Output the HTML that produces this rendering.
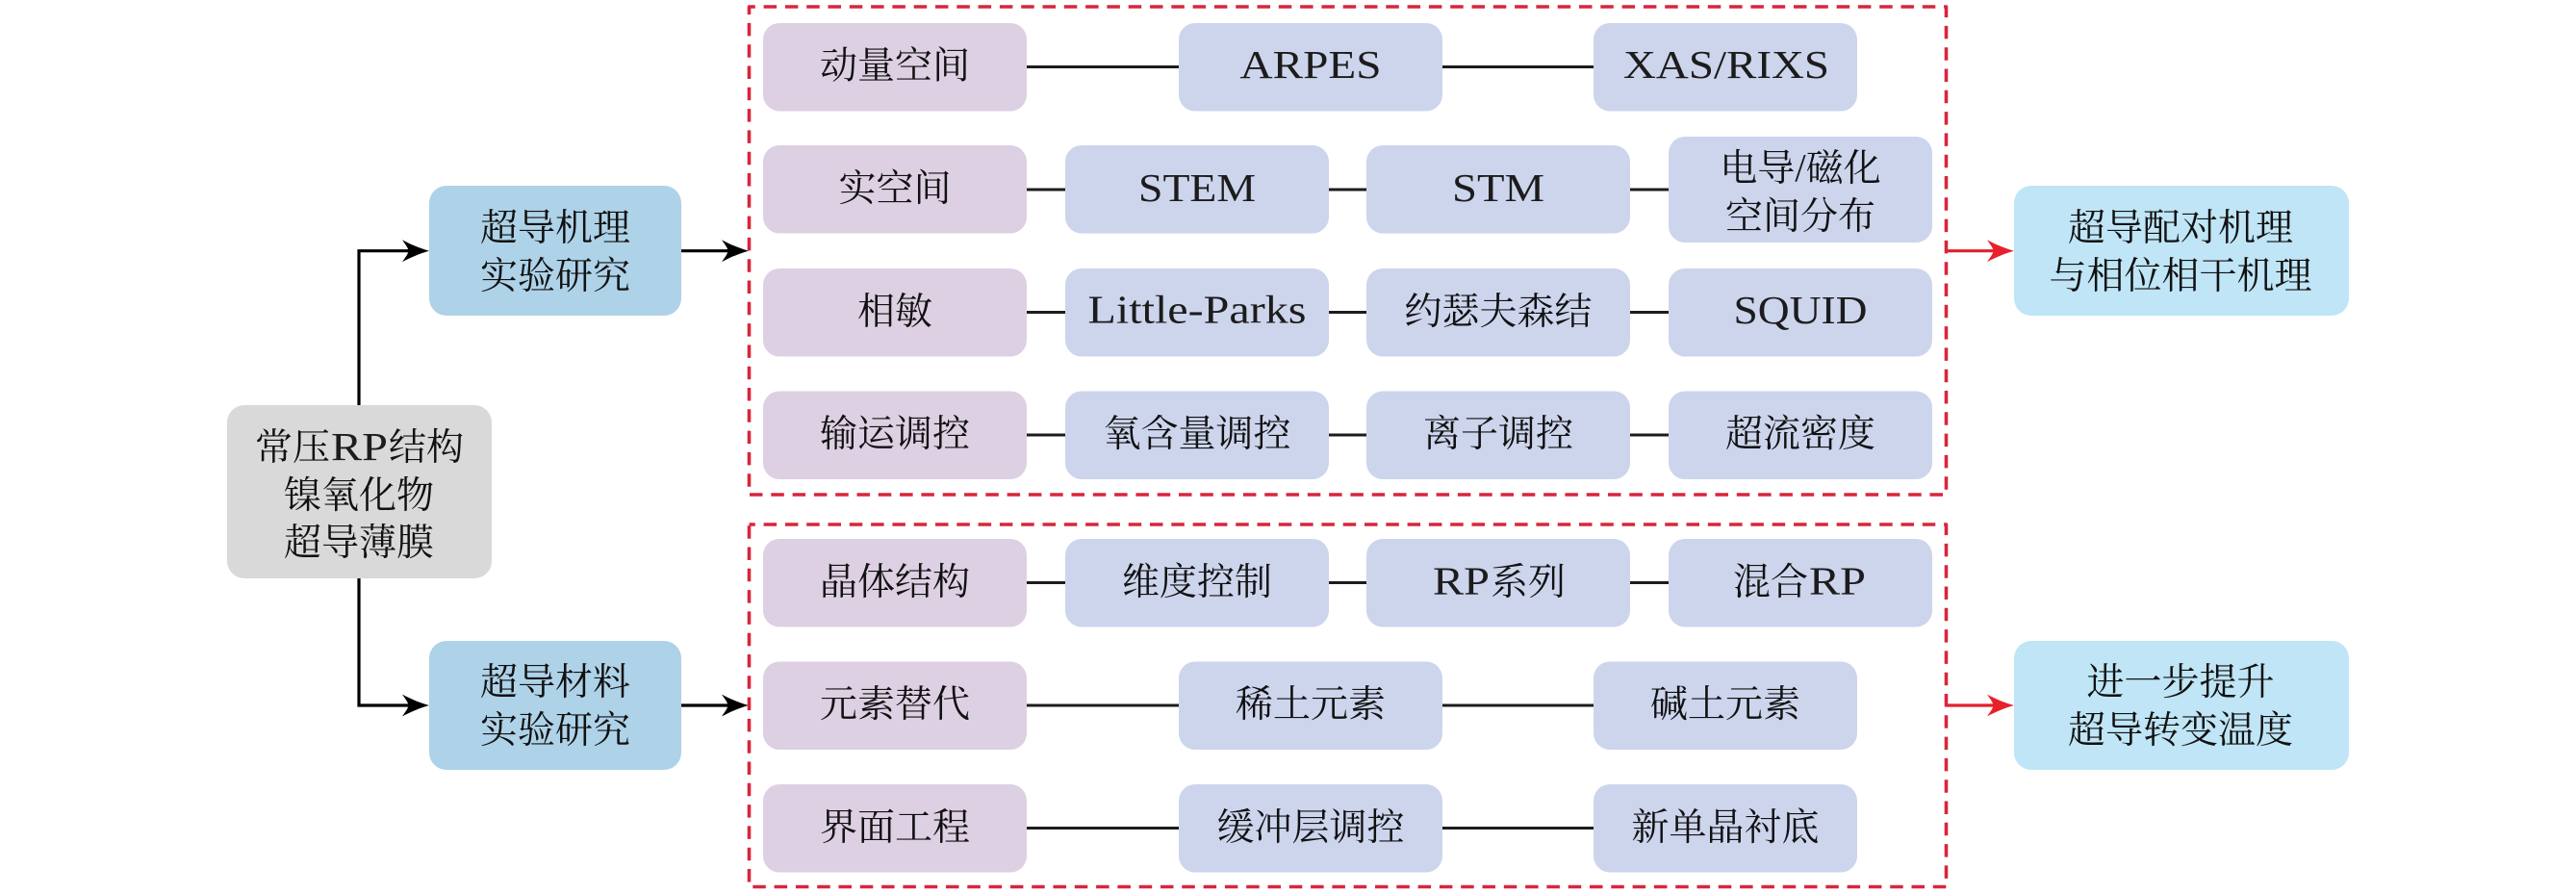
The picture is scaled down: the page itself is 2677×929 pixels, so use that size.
<!DOCTYPE html>
<html lang="zh">
<head>
<meta charset="utf-8">
<title>Diagram</title>
<style>
html,body{margin:0;padding:0;background:#fff;width:2677px;height:929px;overflow:hidden}
svg{display:block}
text{font-family:"Liberation Serif","Noto Serif CJK SC",serif;font-size:39px;fill:#111;text-anchor:middle}
.l{font-size:41px;font-family:"Liberation Serif",serif;fill:#1c1c1c}
.st{text-anchor:start}
.p{fill:#ddd0e3}.b{fill:#cdd5ed}.s{fill:#aed2e8}.g{fill:#d9d9d9}.c{fill:#bfe5f6}
</style>
</head>
<body>
<svg width="2677" height="929" viewBox="0 0 2677 929" xmlns="http://www.w3.org/2000/svg">
<defs>
<path id="ah" d="M0 0 C-9 2.500 -19 6.500 -28 11.500 C-25 7 -22 3.500 -21.500 0 C-22 -3.500 -25 -7 -28 -11.500 C-19 -6.500 -9 -2.500 0 0Z"/>
</defs>
<rect width="2677" height="929" fill="#fff"/>

<!-- connectors -->
<g stroke="#1c1c1c" stroke-width="3" fill="none">
<path d="M1067 69.500H1226M1499 69.500H1656"/>
<path d="M1067 197H1107M1381 197H1420M1694 197H1734"/>
<path d="M1067 324.500H1107M1381 324.500H1420M1694 324.500H1734"/>
<path d="M1067 452H1107M1381 452H1420M1694 452H1734"/>
<path d="M1067 605.500H1107M1381 605.500H1420M1694 605.500H1734"/>
<path d="M1067 733H1226M1499 733H1656"/>
<path d="M1067 860.500H1226M1499 860.500H1656"/>
</g>
<g stroke="#000" stroke-width="3.200" fill="none">
<path d="M373 421V260.700H425"/>
<path d="M373 601V733H425"/>
<path d="M707 260.700H757"/>
<path d="M707 733H757"/>
</g>
<use href="#ah" x="446" y="260.700" fill="#000"/>
<use href="#ah" x="446" y="733" fill="#000"/>
<use href="#ah" x="778" y="260.700" fill="#000"/>
<use href="#ah" x="778" y="733" fill="#000"/>
<g stroke="#e0202f" stroke-width="3.200" fill="none">
<path d="M2022 260.700H2072"/>
<path d="M2022 733H2072"/>
</g>
<use href="#ah" x="2093" y="260.700" fill="#e8202a"/>
<use href="#ah" x="2093" y="733" fill="#e8202a"/>

<!-- dashed groups -->
<g fill="none" stroke="#d7263d" stroke-width="3.600" stroke-dasharray="13.500 8.800" stroke-dashoffset="7.200" stroke-linejoin="round">
<rect x="778.500" y="7" width="1244" height="507"/>
<rect x="778.500" y="545" width="1244" height="376.500"/>
</g>

<!-- left nodes -->
<rect class="g" x="236" y="421" width="275" height="180" rx="18"/>
<rect class="s" x="446" y="193" width="262" height="135" rx="18"/>
<rect class="s" x="446" y="666" width="262" height="134" rx="18"/>
<rect class="c" x="2093" y="193" width="348" height="135" rx="18"/>
<rect class="c" x="2093" y="666" width="348" height="134" rx="18"/>

<!-- col 1 -->
<g class="p">
<rect x="793" y="24" width="274" height="91.500" rx="17"/>
<rect x="793" y="151" width="274" height="91.500" rx="17"/>
<rect x="793" y="279" width="274" height="91.500" rx="17"/>
<rect x="793" y="406.500" width="274" height="91.500" rx="17"/>
<rect x="793" y="560" width="274" height="91.500" rx="17"/>
<rect x="793" y="687.500" width="274" height="91.500" rx="17"/>
<rect x="793" y="815" width="274" height="91.500" rx="17"/>
</g>
<g class="b">
<rect x="1225" y="24" width="274" height="91.500" rx="17"/>
<rect x="1656" y="24" width="274" height="91.500" rx="17"/>
<rect x="1107" y="151" width="274" height="91.500" rx="17"/>
<rect x="1420" y="151" width="274" height="91.500" rx="17"/>
<rect x="1734" y="142" width="274" height="110" rx="17"/>
<rect x="1107" y="279" width="274" height="91.500" rx="17"/>
<rect x="1420" y="279" width="274" height="91.500" rx="17"/>
<rect x="1734" y="279" width="274" height="91.500" rx="17"/>
<rect x="1107" y="406.500" width="274" height="91.500" rx="17"/>
<rect x="1420" y="406.500" width="274" height="91.500" rx="17"/>
<rect x="1734" y="406.500" width="274" height="91.500" rx="17"/>
<rect x="1107" y="560" width="274" height="91.500" rx="17"/>
<rect x="1420" y="560" width="274" height="91.500" rx="17"/>
<rect x="1734" y="560" width="274" height="91.500" rx="17"/>
<rect x="1225" y="687.500" width="274" height="91.500" rx="17"/>
<rect x="1656" y="687.500" width="274" height="91.500" rx="17"/>
<rect x="1225" y="815" width="274" height="91.500" rx="17"/>
<rect x="1656" y="815" width="274" height="91.500" rx="17"/>
</g>

<!-- labels -->
<text class="st" x="265" y="478">常压</text>
<text class="l st" x="344" y="478" textLength="59" lengthAdjust="spacingAndGlyphs">RP</text>
<text class="st" x="404" y="478">结构</text>
<text x="373" y="528">镍氧化物</text>
<text x="373" y="577">超导薄膜</text>
<text x="577" y="250">超导机理</text>
<text x="577" y="300">实验研究</text>
<text x="577" y="722">超导材料</text>
<text x="577" y="772">实验研究</text>
<text x="2266" y="250">超导配对机理</text>
<text x="2266" y="300">与相位相干机理</text>
<text x="2266" y="722">进一步提升</text>
<text x="2266" y="772">超导转变温度</text>

<text x="930" y="81.500">动量空间</text>
<text class="l" x="1362" y="81" textLength="147" lengthAdjust="spacingAndGlyphs">ARPES</text>
<text class="l" x="1794" y="81" textLength="214" lengthAdjust="spacingAndGlyphs">XAS/RIXS</text>

<text x="930" y="209">实空间</text>
<text class="l" x="1244" y="209" textLength="122" lengthAdjust="spacingAndGlyphs">STEM</text>
<text class="l" x="1557" y="209" textLength="96" lengthAdjust="spacingAndGlyphs">STM</text>
<text x="1871" y="188">电导<tspan class="l">/</tspan>磁化</text>
<text x="1871" y="238">空间分布</text>

<text x="930" y="337">相敏</text>
<text class="l" x="1244" y="335.500" textLength="227" lengthAdjust="spacingAndGlyphs">Little-Parks</text>
<text x="1557" y="337">约瑟夫森结</text>
<text class="l" x="1871" y="336" textLength="139" lengthAdjust="spacingAndGlyphs">SQUID</text>

<text x="930" y="464">输运调控</text>
<text x="1244" y="464">氧含量调控</text>
<text x="1557" y="464">离子调控</text>
<text x="1871" y="464">超流密度</text>

<text x="930" y="618">晶体结构</text>
<text x="1244" y="618">维度控制</text>
<text class="l st" x="1489" y="617.500" textLength="59" lengthAdjust="spacingAndGlyphs">RP</text>
<text class="st" x="1549" y="618">系列</text>
<text class="st" x="1801" y="618">混合</text>
<text class="l st" x="1880" y="617.500" textLength="59" lengthAdjust="spacingAndGlyphs">RP</text>

<text x="930" y="745">元素替代</text>
<text x="1362" y="745">稀土元素</text>
<text x="1793" y="745">碱土元素</text>

<text x="930" y="873">界面工程</text>
<text x="1362" y="873">缓冲层调控</text>
<text x="1793" y="873">新单晶衬底</text>
</svg>
</body>
</html>
